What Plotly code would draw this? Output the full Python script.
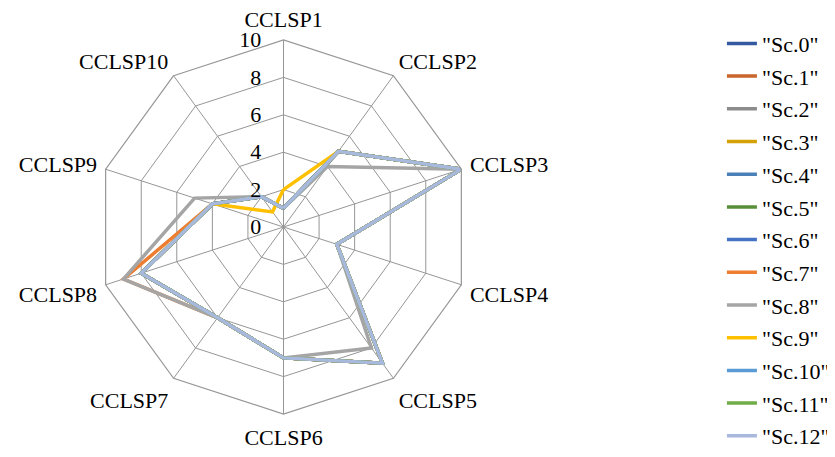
import plotly.graph_objects as go

categories = ["CCLSP1", "CCLSP2", "CCLSP3", "CCLSP4", "CCLSP5",
              "CCLSP6", "CCLSP7", "CCLSP8", "CCLSP9", "CCLSP10"]

sc0 = [1, 5, 10, 3, 9, 7, 6, 8, 4, 2]
sc1 = [1, 5, 10, 3, 9, 7, 6, 8, 4, 2]
sc2 = [1, 5, 10, 3, 9, 7, 6, 8, 4, 2]
sc3 = [1, 5, 10, 3, 9, 7, 6, 8, 4, 2]
sc4 = [1, 5, 10, 3, 9, 7, 6, 8, 4, 2]
sc5 = [1, 5, 10, 3, 9, 7, 6, 8, 4, 2]
sc6 = [1, 5, 10, 3, 9, 7, 6, 8, 4, 2]
sc7 = [1, 5, 10, 3, 9, 7, 6, 9, 4, 2]
sc8 = [1, 4, 10, 3, 8, 7, 6, 9, 5, 2]
sc9 = [2, 5, 10, 3, 9, 7, 6, 8, 4, 1]
sc10 = [1, 5, 10, 3, 9, 7, 6, 8, 4, 2]
sc11 = [1, 5, 10, 3, 9, 7, 6, 8, 4, 2]
sc12 = [1, 5, 10, 3, 9, 7, 6, 8, 4, 2]

series_names = ['"Sc.0"', '"Sc.1"', '"Sc.2"', '"Sc.3"', '"Sc.4"', '"Sc.5"', '"Sc.6"',
                '"Sc.7"', '"Sc.8"', '"Sc.9"', '"Sc.10"', '"Sc.11"', '"Sc.12"']
series_values = [sc0, sc1, sc2, sc3, sc4, sc5, sc6, sc7, sc8, sc9, sc10, sc11, sc12]
colors = ['#335AA1', '#C8652B', '#8C8C8C', '#D4A106', '#4A80B8', '#5A8F3A', '#4472C4',
          '#ED7D31', '#A5A5A5', '#FFC000', '#5B9BD5', '#70AD47', '#A9B8DD']

radial_ticks = [0, 2, 4, 6, 8, 10]

FONT = "Liberation Serif"
GRID = "#969696"

fig = go.Figure()
for i, (name, vals, col) in enumerate(zip(series_names, series_values, colors)):
    fig.add_trace(go.Scatterpolar(
        r=vals + vals[:1],
        theta=categories + categories[:1],
        mode="lines",
        name=name,
        legendgroup=f"g{i}",
        line=dict(color=col, width=3.5),
    ))

fig.update_layout(
    width=835, height=457,
    margin=dict(l=88, r=372, t=32, b=51),
    paper_bgcolor="white",
    font=dict(family=FONT, size=22, color="black"),
    polar=dict(
        bgcolor="white",
        gridshape="linear",
        radialaxis=dict(
            range=[0, 10],
            tickvals=radial_ticks,
            ticktext=[str(v) for v in radial_ticks],
            angle=90,
            tickangle=90,
            side="counterclockwise",
            showline=False,
            gridcolor=GRID,
            gridwidth=1.2,
            ticks="outside",
            ticklen=14,
            tickcolor="rgba(0,0,0,0)",
            tickfont=dict(family=FONT, size=22, color="black"),
        ),
        angularaxis=dict(
            type="category",
            categoryarray=categories,
            direction="clockwise",
            rotation=90,
            showline=True,
            linecolor=GRID,
            linewidth=1.2,
            gridcolor=GRID,
            gridwidth=1.2,
            ticks="outside",
            ticklen=4,
            tickcolor="rgba(0,0,0,0)",
            tickfont=dict(family=FONT, size=22, color="black"),
        ),
    ),
    legend=dict(
        xref="container", yref="container",
        x=0.855, y=0.968,
        xanchor="left", yanchor="top",
        maxheight=450,
        tracegroupgap=1.1,
        font=dict(family=FONT, size=22, color="black"),
        bgcolor="rgba(0,0,0,0)",
    ),
    showlegend=True,
)

fig.write_html("out.html")
